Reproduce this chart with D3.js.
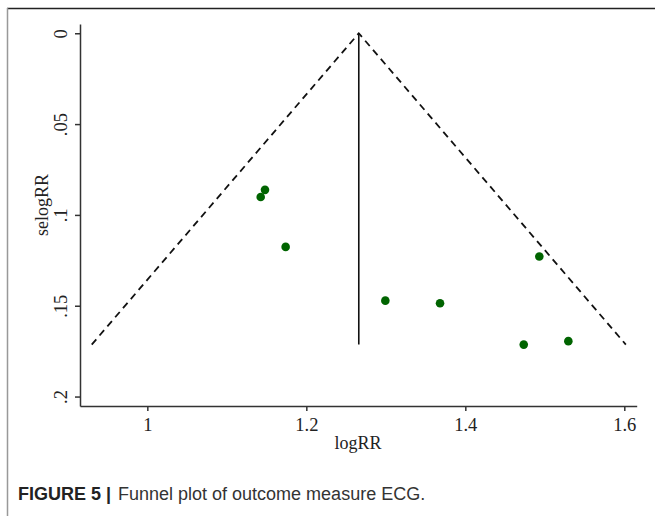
<!DOCTYPE html>
<html>
<head>
<meta charset="utf-8">
<script src="https://cdn.jsdelivr.net/npm/d3@7"></script>
<style>
  body { margin: 0; background: #fff; }
  .axis text { font-family: "Liberation Serif", "Times New Roman", serif; font-size: 18.5px; fill: #222; }
  .axis path, .axis line { stroke: #333; stroke-width: 1.5; }
  .caption { font-family: "Liberation Sans", Arial, sans-serif; font-size: 18px; }
</style>
</head>
<body>
<div id="chart"></div>
<script>
// data
const logRR = [1.148, 1.1426, 1.174, 1.2994, 1.3682, 1.4931, 1.4735, 1.5296];
const selogRR = [0.0862, 0.0901, 0.1176, 0.1472, 0.1486, 0.1229, 0.1714, 0.1695];
const pooled = 1.266;
const xTicks = [1, 1.2, 1.4, 1.6];
const yTicks = [0, 0.05, 0.1, 0.15, 0.2];

const width = 655, height = 516;

const svg = d3.select("#chart").append("svg")
  .attr("width", width)
  .attr("height", height);

// frame
svg.append("line").attr("x1", 7).attr("x2", width).attr("y1", 8.5).attr("y2", 8.5)
  .attr("stroke", "#222").attr("stroke-width", 1.5);
svg.append("line").attr("x1", 7.5).attr("x2", 7.5).attr("y1", 8).attr("y2", height)
  .attr("stroke", "#999").attr("stroke-width", 1.5);

// scales
const x = d3.scaleLinear().domain([0.9153, 1.6156]).range([80, 636.7]);
const y = d3.scaleLinear().domain([-0.0051, 0.2052]).range([24, 406]);

// x axis
const gx = svg.append("g")
  .attr("class", "axis")
  .attr("transform", "translate(0,406)")
  .call(d3.axisBottom(x).tickValues(xTicks).tickSize(5).tickSizeOuter(0)
    .tickFormat(d => d3.format("")(d)));
gx.selectAll("text").attr("y", 12);

// y axis
const fmtY = d => d === 0 ? "0" : String(d).replace(/^0/, "");
const gy = svg.append("g")
  .attr("class", "axis")
  .attr("transform", "translate(80,0)")
  .call(d3.axisLeft(y).tickValues(yTicks).tickSize(5).tickSizeOuter(0).tickFormat(fmtY));
gy.selectAll("text")
  .attr("transform", "rotate(-90)")
  .attr("x", 0)
  .attr("y", -13)
  .attr("dy", 0)
  .attr("text-anchor", "middle");

// axis titles
svg.append("text")
  .attr("x", 358).attr("y", 449)
  .attr("text-anchor", "middle")
  .style("font-family", "Liberation Serif, Times New Roman, serif")
  .style("font-size", "18px").style("fill", "#222")
  .text("logRR");
svg.append("text")
  .attr("transform", "translate(48,205) rotate(-90)")
  .attr("text-anchor", "middle")
  .style("font-family", "Liberation Serif, Times New Roman, serif")
  .style("font-size", "18px").style("fill", "#222")
  .text("selogRR");

// funnel (pseudo 95% limits)
const seMax = d3.max(selogRR);
const funnel = [
  [pooled - 1.96 * seMax, seMax],
  [pooled, 0],
  [pooled + 1.96 * seMax, seMax]
];
svg.append("path")
  .datum(funnel)
  .attr("fill", "none")
  .attr("stroke", "#111")
  .attr("stroke-width", 1.8)
  .attr("stroke-dasharray", "7,5")
  .attr("d", d3.line().x(d => x(d[0])).y(d => y(d[1])));

// pooled estimate line
svg.append("line")
  .attr("x1", x(pooled)).attr("x2", x(pooled))
  .attr("y1", y(0)).attr("y2", y(seMax))
  .attr("stroke", "#111").attr("stroke-width", 1.6);

// studies
svg.selectAll(".dot")
  .data(logRR.map((v, i) => ({ x: v, se: selogRR[i] })))
  .join("circle")
  .attr("class", "dot")
  .attr("cx", d => x(d.x))
  .attr("cy", d => y(d.se))
  .attr("r", 4.3)
  .attr("fill", "#006400");

// caption
svg.append("text")
  .attr("class", "caption")
  .attr("x", 18).attr("y", 500)
  .style("font-weight", "bold").style("fill", "#222")
  .text("FIGURE 5 |");
svg.append("text")
  .attr("class", "caption")
  .attr("x", 118).attr("y", 500)
  .style("fill", "#333")
  .text("Funnel plot of outcome measure ECG.");
</script>
</body>
</html>
